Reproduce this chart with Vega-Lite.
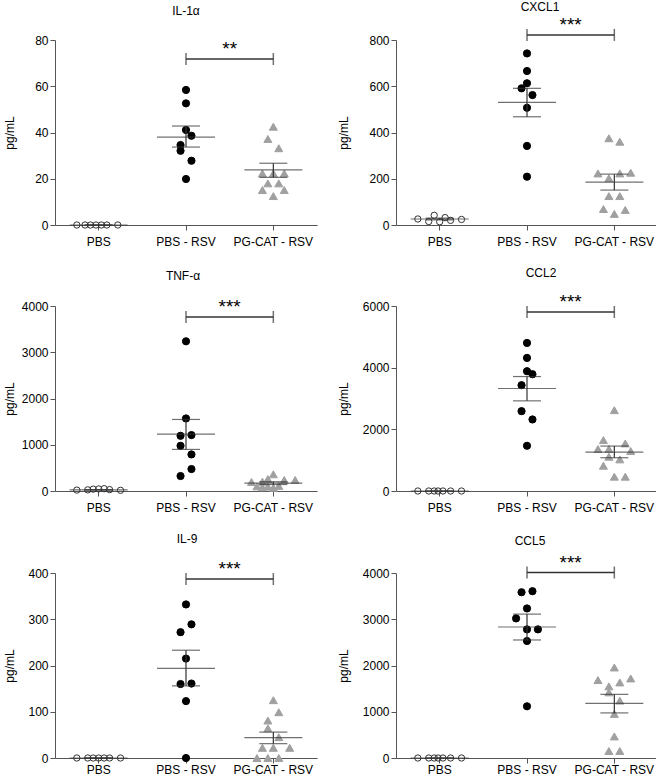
{
  "$schema": "https://vega.github.io/schema/vega-lite/v6.json",
  "padding": {"left": 3, "top": 0, "right": 0, "bottom": 0},
  "columns": 2,
  "spacing": {"row": 20, "column": 20},
  "datasets": {
    "pts": [
      {"c": "IL-1α", "g": "PBS", "v": 0, "s": -4},
      {"c": "IL-1α", "g": "PBS", "v": 0, "s": -2.5},
      {"c": "IL-1α", "g": "PBS", "v": 0, "s": -1.5},
      {"c": "IL-1α", "g": "PBS", "v": 0, "s": -0.5},
      {"c": "IL-1α", "g": "PBS", "v": 0, "s": 0.5},
      {"c": "IL-1α", "g": "PBS", "v": 0, "s": 1.5},
      {"c": "IL-1α", "g": "PBS", "v": 0, "s": 3.5},
      {"c": "IL-1α", "g": "PBS - RSV", "v": 58.4, "s": 0},
      {"c": "IL-1α", "g": "PBS - RSV", "v": 52.6, "s": 0},
      {"c": "IL-1α", "g": "PBS - RSV", "v": 41.1, "s": 0},
      {"c": "IL-1α", "g": "PBS - RSV", "v": 38.6, "s": 1},
      {"c": "IL-1α", "g": "PBS - RSV", "v": 34.6, "s": -1},
      {"c": "IL-1α", "g": "PBS - RSV", "v": 32.1, "s": -1},
      {"c": "IL-1α", "g": "PBS - RSV", "v": 27.8, "s": 1},
      {"c": "IL-1α", "g": "PBS - RSV", "v": 19.9, "s": 0},
      {"c": "IL-1α", "g": "PG-CAT - RSV", "v": 42.5, "s": 0},
      {"c": "IL-1α", "g": "PG-CAT - RSV", "v": 37.2, "s": -1},
      {"c": "IL-1α", "g": "PG-CAT - RSV", "v": 33.2, "s": 1},
      {"c": "IL-1α", "g": "PG-CAT - RSV", "v": 22.3, "s": -2},
      {"c": "IL-1α", "g": "PG-CAT - RSV", "v": 22.3, "s": 0},
      {"c": "IL-1α", "g": "PG-CAT - RSV", "v": 22.3, "s": 2},
      {"c": "IL-1α", "g": "PG-CAT - RSV", "v": 18.0, "s": -1},
      {"c": "IL-1α", "g": "PG-CAT - RSV", "v": 18.0, "s": 1},
      {"c": "IL-1α", "g": "PG-CAT - RSV", "v": 15.1, "s": -2},
      {"c": "IL-1α", "g": "PG-CAT - RSV", "v": 15.1, "s": 2},
      {"c": "IL-1α", "g": "PG-CAT - RSV", "v": 12.5, "s": 0},

      {"c": "CXCL1", "g": "PBS", "v": 26, "s": -4},
      {"c": "CXCL1", "g": "PBS", "v": 15, "s": -2},
      {"c": "CXCL1", "g": "PBS", "v": 42, "s": -1},
      {"c": "CXCL1", "g": "PBS", "v": 14, "s": 0},
      {"c": "CXCL1", "g": "PBS", "v": 32, "s": 1},
      {"c": "CXCL1", "g": "PBS", "v": 20, "s": 2},
      {"c": "CXCL1", "g": "PBS", "v": 24, "s": 4},
      {"c": "CXCL1", "g": "PBS - RSV", "v": 742, "s": 0},
      {"c": "CXCL1", "g": "PBS - RSV", "v": 666, "s": 0},
      {"c": "CXCL1", "g": "PBS - RSV", "v": 613, "s": 0},
      {"c": "CXCL1", "g": "PBS - RSV", "v": 591, "s": -1},
      {"c": "CXCL1", "g": "PBS - RSV", "v": 562, "s": 1},
      {"c": "CXCL1", "g": "PBS - RSV", "v": 507, "s": 0},
      {"c": "CXCL1", "g": "PBS - RSV", "v": 342, "s": 0},
      {"c": "CXCL1", "g": "PBS - RSV", "v": 209, "s": 0},
      {"c": "CXCL1", "g": "PG-CAT - RSV", "v": 375, "s": -1},
      {"c": "CXCL1", "g": "PG-CAT - RSV", "v": 360, "s": 1},
      {"c": "CXCL1", "g": "PG-CAT - RSV", "v": 223, "s": -3},
      {"c": "CXCL1", "g": "PG-CAT - RSV", "v": 202, "s": -1},
      {"c": "CXCL1", "g": "PG-CAT - RSV", "v": 223, "s": 1},
      {"c": "CXCL1", "g": "PG-CAT - RSV", "v": 226, "s": 3},
      {"c": "CXCL1", "g": "PG-CAT - RSV", "v": 125, "s": -1},
      {"c": "CXCL1", "g": "PG-CAT - RSV", "v": 125, "s": 1},
      {"c": "CXCL1", "g": "PG-CAT - RSV", "v": 69, "s": -2},
      {"c": "CXCL1", "g": "PG-CAT - RSV", "v": 48, "s": 0},
      {"c": "CXCL1", "g": "PG-CAT - RSV", "v": 65, "s": 2},

      {"c": "TNF-α", "g": "PBS", "v": 20, "s": -4},
      {"c": "TNF-α", "g": "PBS", "v": 25, "s": -2},
      {"c": "TNF-α", "g": "PBS", "v": 40, "s": -1},
      {"c": "TNF-α", "g": "PBS", "v": 45, "s": 0},
      {"c": "TNF-α", "g": "PBS", "v": 50, "s": 1},
      {"c": "TNF-α", "g": "PBS", "v": 30, "s": 2},
      {"c": "TNF-α", "g": "PBS", "v": 15, "s": 4},
      {"c": "TNF-α", "g": "PBS - RSV", "v": 3237, "s": 0},
      {"c": "TNF-α", "g": "PBS - RSV", "v": 1568, "s": 0},
      {"c": "TNF-α", "g": "PBS - RSV", "v": 1194, "s": -1},
      {"c": "TNF-α", "g": "PBS - RSV", "v": 1209, "s": 1},
      {"c": "TNF-α", "g": "PBS - RSV", "v": 978, "s": -1},
      {"c": "TNF-α", "g": "PBS - RSV", "v": 791, "s": 1},
      {"c": "TNF-α", "g": "PBS - RSV", "v": 475, "s": 1},
      {"c": "TNF-α", "g": "PBS - RSV", "v": 324, "s": -1},
      {"c": "TNF-α", "g": "PG-CAT - RSV", "v": 361, "s": 0},
      {"c": "TNF-α", "g": "PG-CAT - RSV", "v": 259, "s": -1},
      {"c": "TNF-α", "g": "PG-CAT - RSV", "v": 238, "s": 2},
      {"c": "TNF-α", "g": "PG-CAT - RSV", "v": 238, "s": 4},
      {"c": "TNF-α", "g": "PG-CAT - RSV", "v": 202, "s": -2},
      {"c": "TNF-α", "g": "PG-CAT - RSV", "v": 195, "s": -4},
      {"c": "TNF-α", "g": "PG-CAT - RSV", "v": 100, "s": -3},
      {"c": "TNF-α", "g": "PG-CAT - RSV", "v": 80, "s": -2},
      {"c": "TNF-α", "g": "PG-CAT - RSV", "v": 95, "s": -1},
      {"c": "TNF-α", "g": "PG-CAT - RSV", "v": 70, "s": 0},
      {"c": "TNF-α", "g": "PG-CAT - RSV", "v": 110, "s": 1},

      {"c": "CCL2", "g": "PBS", "v": 0, "s": -4},
      {"c": "CCL2", "g": "PBS", "v": 0, "s": -2},
      {"c": "CCL2", "g": "PBS", "v": 0, "s": -1},
      {"c": "CCL2", "g": "PBS", "v": 0, "s": -0.3},
      {"c": "CCL2", "g": "PBS", "v": 0, "s": 0.6},
      {"c": "CCL2", "g": "PBS", "v": 0, "s": 2},
      {"c": "CCL2", "g": "PBS", "v": 0, "s": 4},
      {"c": "CCL2", "g": "PBS - RSV", "v": 4802, "s": 0},
      {"c": "CCL2", "g": "PBS - RSV", "v": 4317, "s": 0},
      {"c": "CCL2", "g": "PBS - RSV", "v": 3885, "s": 0},
      {"c": "CCL2", "g": "PBS - RSV", "v": 3788, "s": 1},
      {"c": "CCL2", "g": "PBS - RSV", "v": 3432, "s": -1},
      {"c": "CCL2", "g": "PBS - RSV", "v": 2590, "s": -1},
      {"c": "CCL2", "g": "PBS - RSV", "v": 2320, "s": 1},
      {"c": "CCL2", "g": "PBS - RSV", "v": 1468, "s": 0},
      {"c": "CCL2", "g": "PG-CAT - RSV", "v": 2622, "s": 0},
      {"c": "CCL2", "g": "PG-CAT - RSV", "v": 1651, "s": -2},
      {"c": "CCL2", "g": "PG-CAT - RSV", "v": 1360, "s": -3},
      {"c": "CCL2", "g": "PG-CAT - RSV", "v": 1360, "s": -1},
      {"c": "CCL2", "g": "PG-CAT - RSV", "v": 1543, "s": 2},
      {"c": "CCL2", "g": "PG-CAT - RSV", "v": 1295, "s": 3},
      {"c": "CCL2", "g": "PG-CAT - RSV", "v": 1111, "s": -1},
      {"c": "CCL2", "g": "PG-CAT - RSV", "v": 1025, "s": 1},
      {"c": "CCL2", "g": "PG-CAT - RSV", "v": 820, "s": -2},
      {"c": "CCL2", "g": "PG-CAT - RSV", "v": 464, "s": 0},
      {"c": "CCL2", "g": "PG-CAT - RSV", "v": 464, "s": 2},

      {"c": "IL-9", "g": "PBS", "v": 0, "s": -4},
      {"c": "IL-9", "g": "PBS", "v": 0, "s": -2},
      {"c": "IL-9", "g": "PBS", "v": 0, "s": -1},
      {"c": "IL-9", "g": "PBS", "v": 0, "s": 0},
      {"c": "IL-9", "g": "PBS", "v": 0, "s": 1},
      {"c": "IL-9", "g": "PBS", "v": 0, "s": 2},
      {"c": "IL-9", "g": "PBS", "v": 0, "s": 4},
      {"c": "IL-9", "g": "PBS - RSV", "v": 332, "s": 0},
      {"c": "IL-9", "g": "PBS - RSV", "v": 289, "s": 1},
      {"c": "IL-9", "g": "PBS - RSV", "v": 272, "s": -1},
      {"c": "IL-9", "g": "PBS - RSV", "v": 215, "s": 0},
      {"c": "IL-9", "g": "PBS - RSV", "v": 160, "s": -1},
      {"c": "IL-9", "g": "PBS - RSV", "v": 161, "s": 1},
      {"c": "IL-9", "g": "PBS - RSV", "v": 123, "s": 0},
      {"c": "IL-9", "g": "PBS - RSV", "v": 0, "s": 0},
      {"c": "IL-9", "g": "PG-CAT - RSV", "v": 125, "s": 0},
      {"c": "IL-9", "g": "PG-CAT - RSV", "v": 99, "s": 1},
      {"c": "IL-9", "g": "PG-CAT - RSV", "v": 81, "s": -1},
      {"c": "IL-9", "g": "PG-CAT - RSV", "v": 64, "s": -1},
      {"c": "IL-9", "g": "PG-CAT - RSV", "v": 45, "s": 1},
      {"c": "IL-9", "g": "PG-CAT - RSV", "v": 22, "s": -2},
      {"c": "IL-9", "g": "PG-CAT - RSV", "v": 22, "s": 0},
      {"c": "IL-9", "g": "PG-CAT - RSV", "v": 22, "s": 3},
      {"c": "IL-9", "g": "PG-CAT - RSV", "v": 0, "s": -3},
      {"c": "IL-9", "g": "PG-CAT - RSV", "v": 0, "s": -1},
      {"c": "IL-9", "g": "PG-CAT - RSV", "v": 0, "s": 1},

      {"c": "CCL5", "g": "PBS", "v": 0, "s": -4},
      {"c": "CCL5", "g": "PBS", "v": 0, "s": -2},
      {"c": "CCL5", "g": "PBS", "v": 0, "s": -1},
      {"c": "CCL5", "g": "PBS", "v": 0, "s": -0.3},
      {"c": "CCL5", "g": "PBS", "v": 0, "s": 0.6},
      {"c": "CCL5", "g": "PBS", "v": 0, "s": 2},
      {"c": "CCL5", "g": "PBS", "v": 0, "s": 4},
      {"c": "CCL5", "g": "PBS - RSV", "v": 3584, "s": -1},
      {"c": "CCL5", "g": "PBS - RSV", "v": 3606, "s": 1},
      {"c": "CCL5", "g": "PBS - RSV", "v": 3233, "s": 0},
      {"c": "CCL5", "g": "PBS - RSV", "v": 3018, "s": -2},
      {"c": "CCL5", "g": "PBS - RSV", "v": 2781, "s": 0},
      {"c": "CCL5", "g": "PBS - RSV", "v": 2781, "s": 2},
      {"c": "CCL5", "g": "PBS - RSV", "v": 2530, "s": 0},
      {"c": "CCL5", "g": "PBS - RSV", "v": 1118, "s": 0},
      {"c": "CCL5", "g": "PG-CAT - RSV", "v": 1957, "s": 0},
      {"c": "CCL5", "g": "PG-CAT - RSV", "v": 1685, "s": -3},
      {"c": "CCL5", "g": "PG-CAT - RSV", "v": 1548, "s": -1},
      {"c": "CCL5", "g": "PG-CAT - RSV", "v": 1634, "s": 1},
      {"c": "CCL5", "g": "PG-CAT - RSV", "v": 1720, "s": 3},
      {"c": "CCL5", "g": "PG-CAT - RSV", "v": 1419, "s": -1},
      {"c": "CCL5", "g": "PG-CAT - RSV", "v": 1240, "s": 1},
      {"c": "CCL5", "g": "PG-CAT - RSV", "v": 953, "s": 0},
      {"c": "CCL5", "g": "PG-CAT - RSV", "v": 466, "s": 0},
      {"c": "CCL5", "g": "PG-CAT - RSV", "v": 151, "s": -1},
      {"c": "CCL5", "g": "PG-CAT - RSV", "v": 151, "s": 1}
    ],
    "stats": [
      {"c": "IL-1α", "g": "PBS", "mean": 0, "lo": 0, "hi": 0},
      {"c": "IL-1α", "g": "PBS - RSV", "mean": 38.0, "lo": 33.7, "hi": 42.8},
      {"c": "IL-1α", "g": "PG-CAT - RSV", "mean": 23.8, "lo": 20.6, "hi": 26.7},
      {"c": "CXCL1", "g": "PBS", "mean": 26, "lo": 22, "hi": 30},
      {"c": "CXCL1", "g": "PBS - RSV", "mean": 530, "lo": 468, "hi": 591},
      {"c": "CXCL1", "g": "PG-CAT - RSV", "mean": 185, "lo": 151, "hi": 220},
      {"c": "TNF-α", "g": "PBS", "mean": 25, "lo": 20, "hi": 30},
      {"c": "TNF-α", "g": "PBS - RSV", "mean": 1230, "lo": 899, "hi": 1547},
      {"c": "TNF-α", "g": "PG-CAT - RSV", "mean": 170, "lo": 140, "hi": 200},
      {"c": "CCL2", "g": "PBS", "mean": 0, "lo": 0, "hi": 0},
      {"c": "CCL2", "g": "PBS - RSV", "mean": 3324, "lo": 2924, "hi": 3712},
      {"c": "CCL2", "g": "PG-CAT - RSV", "mean": 1263, "lo": 1079, "hi": 1457},
      {"c": "IL-9", "g": "PBS", "mean": 0, "lo": 0, "hi": 0},
      {"c": "IL-9", "g": "PBS - RSV", "mean": 194, "lo": 156, "hi": 233},
      {"c": "IL-9", "g": "PG-CAT - RSV", "mean": 44, "lo": 31, "hi": 56},
      {"c": "CCL5", "g": "PBS", "mean": 0, "lo": 0, "hi": 0},
      {"c": "CCL5", "g": "PBS - RSV", "mean": 2832, "lo": 2552, "hi": 3111},
      {"c": "CCL5", "g": "PG-CAT - RSV", "mean": 1183, "lo": 975, "hi": 1376}
    ],
    "sig": [
      {"c": "IL-1α", "from": "PBS - RSV", "to": "PG-CAT - RSV", "y": 71.8, "t": "**"},
      {"c": "CXCL1", "from": "PBS - RSV", "to": "PG-CAT - RSV", "y": 822, "t": "***"},
      {"c": "TNF-α", "from": "PBS - RSV", "to": "PG-CAT - RSV", "y": 3762, "t": "***"},
      {"c": "CCL2", "from": "PBS - RSV", "to": "PG-CAT - RSV", "y": 5805, "t": "***"},
      {"c": "IL-9", "from": "PBS - RSV", "to": "PG-CAT - RSV", "y": 387, "t": "***"},
      {"c": "CCL5", "from": "PBS - RSV", "to": "PG-CAT - RSV", "y": 4010, "t": "***"}
    ]
  },
  "concat": [
    {
      "width": 262, "height": 185,
      "title": {"text": "IL-1α", "dx": 0, "offset": 16},
      "layer": [
        {"data": {"name": "pts"}, "transform": [{"filter": "datum.c === 'IL-1α'"}],
         "mark": {"type": "point", "filled": true, "strokeWidth": 1, "opacity": 1},
         "encoding": {
           "x": {"field": "g", "type": "nominal", "scale": {"domain": ["PBS", "PBS - RSV", "PG-CAT - RSV"], "paddingInner": 0, "paddingOuter": 0}, "axis": {"title": null}},
           "xOffset": {"field": "s", "type": "quantitative", "scale": {"domain": [-8, 8]}},
           "y": {"field": "v", "type": "quantitative", "scale": {"domain": [0, 80]}, "axis": {"title": "pg/mL", "values": [0, 20, 40, 60, 80], "titleX": -39}},
           "shape": {"field": "g", "type": "nominal", "scale": {"domain": ["PBS", "PBS - RSV", "PG-CAT - RSV"], "range": ["circle", "circle", "triangle-up"]}, "legend": null},
           "fill": {"field": "g", "type": "nominal", "scale": {"domain": ["PBS", "PBS - RSV", "PG-CAT - RSV"], "range": ["transparent", "#000000", "#a0a0a0"]}, "legend": null},
           "stroke": {"field": "g", "type": "nominal", "scale": {"domain": ["PBS", "PBS - RSV", "PG-CAT - RSV"], "range": ["#333333", "#000000", "#a0a0a0"]}, "legend": null},
           "size": {"field": "g", "type": "nominal", "scale": {"domain": ["PBS", "PBS - RSV", "PG-CAT - RSV"], "range": [40, 64, 64]}, "legend": null}
         }},
        {"data": {"name": "stats"}, "transform": [{"filter": "datum.c === 'IL-1α'"}],
         "mark": {"type": "rule", "color": "#333333", "strokeWidth": 1.2},
         "encoding": {"x": {"field": "g", "type": "nominal"}, "y": {"field": "lo", "type": "quantitative"}, "y2": {"field": "hi"}}},
        {"data": {"name": "stats"}, "transform": [{"filter": "datum.c === 'IL-1α'"}],
         "mark": {"type": "tick", "color": "#333333", "size": 58, "thickness": 1.2},
         "encoding": {"x": {"field": "g", "type": "nominal"}, "y": {"field": "mean", "type": "quantitative"}}},
        {"data": {"name": "stats"}, "transform": [{"filter": "datum.c === 'IL-1α'"}, {"fold": ["lo", "hi"], "as": ["k", "cv"]}],
         "mark": {"type": "tick", "color": "#333333", "size": 28, "thickness": 1.2},
         "encoding": {"x": {"field": "g", "type": "nominal"}, "y": {"field": "cv", "type": "quantitative"}}},
        {"data": {"name": "sig"}, "transform": [{"filter": "datum.c === 'IL-1α'"}],
         "mark": {"type": "rule", "color": "#333333", "strokeWidth": 1.5},
         "encoding": {"x": {"field": "from", "type": "nominal"}, "x2": {"field": "to"}, "y": {"field": "y", "type": "quantitative"}}},
        {"data": {"name": "sig"}, "transform": [{"filter": "datum.c === 'IL-1α'"}, {"fold": ["from", "to"], "as": ["k", "gx"]}],
         "mark": {"type": "tick", "orient": "vertical", "color": "#333333", "size": 12, "thickness": 1.5},
         "encoding": {"x": {"field": "gx", "type": "nominal"}, "y": {"field": "y", "type": "quantitative"}}},
        {"data": {"name": "sig"}, "transform": [{"filter": "datum.c === 'IL-1α'"}],
         "mark": {"type": "text", "fontSize": 19, "baseline": "alphabetic", "dy": -4, "font": "Liberation Sans", "color": "#000000"},
         "encoding": {"x": {"field": "from", "type": "nominal"}, "xOffset": {"datum": 8, "type": "quantitative"}, "y": {"field": "y", "type": "quantitative"}, "text": {"field": "t"}}}
      ]
    },
    {
      "width": 262, "height": 185,
      "title": {"text": "CXCL1", "dx": 13, "offset": 2},
      "layer": [
        {"data": {"name": "pts"}, "transform": [{"filter": "datum.c === 'CXCL1'"}],
         "mark": {"type": "point", "filled": true, "strokeWidth": 1, "opacity": 1},
         "encoding": {
           "x": {"field": "g", "type": "nominal", "scale": {"domain": ["PBS", "PBS - RSV", "PG-CAT - RSV"], "paddingInner": 0, "paddingOuter": 0}, "axis": {"title": null}},
           "xOffset": {"field": "s", "type": "quantitative", "scale": {"domain": [-8, 8]}},
           "y": {"field": "v", "type": "quantitative", "scale": {"domain": [0, 800]}, "axis": {"title": "pg/mL", "values": [0, 200, 400, 600, 800], "titleX": -46}},
           "shape": {"field": "g", "type": "nominal", "scale": {"domain": ["PBS", "PBS - RSV", "PG-CAT - RSV"], "range": ["circle", "circle", "triangle-up"]}, "legend": null},
           "fill": {"field": "g", "type": "nominal", "scale": {"domain": ["PBS", "PBS - RSV", "PG-CAT - RSV"], "range": ["transparent", "#000000", "#a0a0a0"]}, "legend": null},
           "stroke": {"field": "g", "type": "nominal", "scale": {"domain": ["PBS", "PBS - RSV", "PG-CAT - RSV"], "range": ["#333333", "#000000", "#a0a0a0"]}, "legend": null},
           "size": {"field": "g", "type": "nominal", "scale": {"domain": ["PBS", "PBS - RSV", "PG-CAT - RSV"], "range": [40, 64, 64]}, "legend": null}
         }},
        {"data": {"name": "stats"}, "transform": [{"filter": "datum.c === 'CXCL1'"}],
         "mark": {"type": "rule", "color": "#333333", "strokeWidth": 1.2},
         "encoding": {"x": {"field": "g", "type": "nominal"}, "y": {"field": "lo", "type": "quantitative"}, "y2": {"field": "hi"}}},
        {"data": {"name": "stats"}, "transform": [{"filter": "datum.c === 'CXCL1'"}],
         "mark": {"type": "tick", "color": "#333333", "size": 58, "thickness": 1.2},
         "encoding": {"x": {"field": "g", "type": "nominal"}, "y": {"field": "mean", "type": "quantitative"}}},
        {"data": {"name": "stats"}, "transform": [{"filter": "datum.c === 'CXCL1'"}, {"fold": ["lo", "hi"], "as": ["k", "cv"]}],
         "mark": {"type": "tick", "color": "#333333", "size": 28, "thickness": 1.2},
         "encoding": {"x": {"field": "g", "type": "nominal"}, "y": {"field": "cv", "type": "quantitative"}}},
        {"data": {"name": "sig"}, "transform": [{"filter": "datum.c === 'CXCL1'"}],
         "mark": {"type": "rule", "color": "#333333", "strokeWidth": 1.5},
         "encoding": {"x": {"field": "from", "type": "nominal"}, "x2": {"field": "to"}, "y": {"field": "y", "type": "quantitative"}}},
        {"data": {"name": "sig"}, "transform": [{"filter": "datum.c === 'CXCL1'"}, {"fold": ["from", "to"], "as": ["k", "gx"]}],
         "mark": {"type": "tick", "orient": "vertical", "color": "#333333", "size": 12, "thickness": 1.5},
         "encoding": {"x": {"field": "gx", "type": "nominal"}, "y": {"field": "y", "type": "quantitative"}}},
        {"data": {"name": "sig"}, "transform": [{"filter": "datum.c === 'CXCL1'"}],
         "mark": {"type": "text", "fontSize": 19, "baseline": "alphabetic", "dy": -4, "font": "Liberation Sans", "color": "#000000"},
         "encoding": {"x": {"field": "from", "type": "nominal"}, "xOffset": {"datum": 8, "type": "quantitative"}, "y": {"field": "y", "type": "quantitative"}, "text": {"field": "t"}}}
      ]
    },
    {
      "width": 262, "height": 185,
      "title": {"text": "TNF-α", "dx": -3, "offset": 15},
      "layer": [
        {"data": {"name": "pts"}, "transform": [{"filter": "datum.c === 'TNF-α'"}],
         "mark": {"type": "point", "filled": true, "strokeWidth": 1, "opacity": 1},
         "encoding": {
           "x": {"field": "g", "type": "nominal", "scale": {"domain": ["PBS", "PBS - RSV", "PG-CAT - RSV"], "paddingInner": 0, "paddingOuter": 0}, "axis": {"title": null}},
           "xOffset": {"field": "s", "type": "quantitative", "scale": {"domain": [-8, 8]}},
           "y": {"field": "v", "type": "quantitative", "scale": {"domain": [0, 4000]}, "axis": {"title": "pg/mL", "values": [0, 1000, 2000, 3000, 4000], "format": "d", "titleX": -39}},
           "shape": {"field": "g", "type": "nominal", "scale": {"domain": ["PBS", "PBS - RSV", "PG-CAT - RSV"], "range": ["circle", "circle", "triangle-up"]}, "legend": null},
           "fill": {"field": "g", "type": "nominal", "scale": {"domain": ["PBS", "PBS - RSV", "PG-CAT - RSV"], "range": ["transparent", "#000000", "#a0a0a0"]}, "legend": null},
           "stroke": {"field": "g", "type": "nominal", "scale": {"domain": ["PBS", "PBS - RSV", "PG-CAT - RSV"], "range": ["#333333", "#000000", "#a0a0a0"]}, "legend": null},
           "size": {"field": "g", "type": "nominal", "scale": {"domain": ["PBS", "PBS - RSV", "PG-CAT - RSV"], "range": [40, 64, 64]}, "legend": null}
         }},
        {"data": {"name": "stats"}, "transform": [{"filter": "datum.c === 'TNF-α'"}],
         "mark": {"type": "rule", "color": "#333333", "strokeWidth": 1.2},
         "encoding": {"x": {"field": "g", "type": "nominal"}, "y": {"field": "lo", "type": "quantitative"}, "y2": {"field": "hi"}}},
        {"data": {"name": "stats"}, "transform": [{"filter": "datum.c === 'TNF-α'"}],
         "mark": {"type": "tick", "color": "#333333", "size": 58, "thickness": 1.2},
         "encoding": {"x": {"field": "g", "type": "nominal"}, "y": {"field": "mean", "type": "quantitative"}}},
        {"data": {"name": "stats"}, "transform": [{"filter": "datum.c === 'TNF-α'"}, {"fold": ["lo", "hi"], "as": ["k", "cv"]}],
         "mark": {"type": "tick", "color": "#333333", "size": 28, "thickness": 1.2},
         "encoding": {"x": {"field": "g", "type": "nominal"}, "y": {"field": "cv", "type": "quantitative"}}},
        {"data": {"name": "sig"}, "transform": [{"filter": "datum.c === 'TNF-α'"}],
         "mark": {"type": "rule", "color": "#333333", "strokeWidth": 1.5},
         "encoding": {"x": {"field": "from", "type": "nominal"}, "x2": {"field": "to"}, "y": {"field": "y", "type": "quantitative"}}},
        {"data": {"name": "sig"}, "transform": [{"filter": "datum.c === 'TNF-α'"}, {"fold": ["from", "to"], "as": ["k", "gx"]}],
         "mark": {"type": "tick", "orient": "vertical", "color": "#333333", "size": 12, "thickness": 1.5},
         "encoding": {"x": {"field": "gx", "type": "nominal"}, "y": {"field": "y", "type": "quantitative"}}},
        {"data": {"name": "sig"}, "transform": [{"filter": "datum.c === 'TNF-α'"}],
         "mark": {"type": "text", "fontSize": 19, "baseline": "alphabetic", "dy": -4, "font": "Liberation Sans", "color": "#000000"},
         "encoding": {"x": {"field": "from", "type": "nominal"}, "xOffset": {"datum": 8, "type": "quantitative"}, "y": {"field": "y", "type": "quantitative"}, "text": {"field": "t"}}}
      ]
    },
    {
      "width": 262, "height": 185,
      "title": {"text": "CCL2", "dx": 14, "offset": 13},
      "layer": [
        {"data": {"name": "pts"}, "transform": [{"filter": "datum.c === 'CCL2'"}],
         "mark": {"type": "point", "filled": true, "strokeWidth": 1, "opacity": 1},
         "encoding": {
           "x": {"field": "g", "type": "nominal", "scale": {"domain": ["PBS", "PBS - RSV", "PG-CAT - RSV"], "paddingInner": 0, "paddingOuter": 0}, "axis": {"title": null}},
           "xOffset": {"field": "s", "type": "quantitative", "scale": {"domain": [-8, 8]}},
           "y": {"field": "v", "type": "quantitative", "scale": {"domain": [0, 6000]}, "axis": {"title": "pg/mL", "values": [0, 2000, 4000, 6000], "format": "d", "titleX": -46}},
           "shape": {"field": "g", "type": "nominal", "scale": {"domain": ["PBS", "PBS - RSV", "PG-CAT - RSV"], "range": ["circle", "circle", "triangle-up"]}, "legend": null},
           "fill": {"field": "g", "type": "nominal", "scale": {"domain": ["PBS", "PBS - RSV", "PG-CAT - RSV"], "range": ["transparent", "#000000", "#a0a0a0"]}, "legend": null},
           "stroke": {"field": "g", "type": "nominal", "scale": {"domain": ["PBS", "PBS - RSV", "PG-CAT - RSV"], "range": ["#333333", "#000000", "#a0a0a0"]}, "legend": null},
           "size": {"field": "g", "type": "nominal", "scale": {"domain": ["PBS", "PBS - RSV", "PG-CAT - RSV"], "range": [40, 64, 64]}, "legend": null}
         }},
        {"data": {"name": "stats"}, "transform": [{"filter": "datum.c === 'CCL2'"}],
         "mark": {"type": "rule", "color": "#333333", "strokeWidth": 1.2},
         "encoding": {"x": {"field": "g", "type": "nominal"}, "y": {"field": "lo", "type": "quantitative"}, "y2": {"field": "hi"}}},
        {"data": {"name": "stats"}, "transform": [{"filter": "datum.c === 'CCL2'"}],
         "mark": {"type": "tick", "color": "#333333", "size": 58, "thickness": 1.2},
         "encoding": {"x": {"field": "g", "type": "nominal"}, "y": {"field": "mean", "type": "quantitative"}}},
        {"data": {"name": "stats"}, "transform": [{"filter": "datum.c === 'CCL2'"}, {"fold": ["lo", "hi"], "as": ["k", "cv"]}],
         "mark": {"type": "tick", "color": "#333333", "size": 28, "thickness": 1.2},
         "encoding": {"x": {"field": "g", "type": "nominal"}, "y": {"field": "cv", "type": "quantitative"}}},
        {"data": {"name": "sig"}, "transform": [{"filter": "datum.c === 'CCL2'"}],
         "mark": {"type": "rule", "color": "#333333", "strokeWidth": 1.5},
         "encoding": {"x": {"field": "from", "type": "nominal"}, "x2": {"field": "to"}, "y": {"field": "y", "type": "quantitative"}}},
        {"data": {"name": "sig"}, "transform": [{"filter": "datum.c === 'CCL2'"}, {"fold": ["from", "to"], "as": ["k", "gx"]}],
         "mark": {"type": "tick", "orient": "vertical", "color": "#333333", "size": 12, "thickness": 1.5},
         "encoding": {"x": {"field": "gx", "type": "nominal"}, "y": {"field": "y", "type": "quantitative"}}},
        {"data": {"name": "sig"}, "transform": [{"filter": "datum.c === 'CCL2'"}],
         "mark": {"type": "text", "fontSize": 19, "baseline": "alphabetic", "dy": -4, "font": "Liberation Sans", "color": "#000000"},
         "encoding": {"x": {"field": "from", "type": "nominal"}, "xOffset": {"datum": 8, "type": "quantitative"}, "y": {"field": "y", "type": "quantitative"}, "text": {"field": "t"}}}
      ]
    },
    {
      "width": 262, "height": 185,
      "title": {"text": "IL-9", "dx": 1, "offset": 14},
      "layer": [
        {"data": {"name": "pts"}, "transform": [{"filter": "datum.c === 'IL-9'"}],
         "mark": {"type": "point", "filled": true, "strokeWidth": 1, "opacity": 1},
         "encoding": {
           "x": {"field": "g", "type": "nominal", "scale": {"domain": ["PBS", "PBS - RSV", "PG-CAT - RSV"], "paddingInner": 0, "paddingOuter": 0}, "axis": {"title": null, "labelPadding": 1}},
           "xOffset": {"field": "s", "type": "quantitative", "scale": {"domain": [-8, 8]}},
           "y": {"field": "v", "type": "quantitative", "scale": {"domain": [0, 400]}, "axis": {"title": "pg/mL", "values": [0, 100, 200, 300, 400], "titleX": -39}},
           "shape": {"field": "g", "type": "nominal", "scale": {"domain": ["PBS", "PBS - RSV", "PG-CAT - RSV"], "range": ["circle", "circle", "triangle-up"]}, "legend": null},
           "fill": {"field": "g", "type": "nominal", "scale": {"domain": ["PBS", "PBS - RSV", "PG-CAT - RSV"], "range": ["transparent", "#000000", "#a0a0a0"]}, "legend": null},
           "stroke": {"field": "g", "type": "nominal", "scale": {"domain": ["PBS", "PBS - RSV", "PG-CAT - RSV"], "range": ["#333333", "#000000", "#a0a0a0"]}, "legend": null},
           "size": {"field": "g", "type": "nominal", "scale": {"domain": ["PBS", "PBS - RSV", "PG-CAT - RSV"], "range": [40, 64, 64]}, "legend": null}
         }},
        {"data": {"name": "stats"}, "transform": [{"filter": "datum.c === 'IL-9'"}],
         "mark": {"type": "rule", "color": "#333333", "strokeWidth": 1.2},
         "encoding": {"x": {"field": "g", "type": "nominal"}, "y": {"field": "lo", "type": "quantitative"}, "y2": {"field": "hi"}}},
        {"data": {"name": "stats"}, "transform": [{"filter": "datum.c === 'IL-9'"}],
         "mark": {"type": "tick", "color": "#333333", "size": 58, "thickness": 1.2},
         "encoding": {"x": {"field": "g", "type": "nominal"}, "y": {"field": "mean", "type": "quantitative"}}},
        {"data": {"name": "stats"}, "transform": [{"filter": "datum.c === 'IL-9'"}, {"fold": ["lo", "hi"], "as": ["k", "cv"]}],
         "mark": {"type": "tick", "color": "#333333", "size": 28, "thickness": 1.2},
         "encoding": {"x": {"field": "g", "type": "nominal"}, "y": {"field": "cv", "type": "quantitative"}}},
        {"data": {"name": "sig"}, "transform": [{"filter": "datum.c === 'IL-9'"}],
         "mark": {"type": "rule", "color": "#333333", "strokeWidth": 1.5},
         "encoding": {"x": {"field": "from", "type": "nominal"}, "x2": {"field": "to"}, "y": {"field": "y", "type": "quantitative"}}},
        {"data": {"name": "sig"}, "transform": [{"filter": "datum.c === 'IL-9'"}, {"fold": ["from", "to"], "as": ["k", "gx"]}],
         "mark": {"type": "tick", "orient": "vertical", "color": "#333333", "size": 12, "thickness": 1.5},
         "encoding": {"x": {"field": "gx", "type": "nominal"}, "y": {"field": "y", "type": "quantitative"}}},
        {"data": {"name": "sig"}, "transform": [{"filter": "datum.c === 'IL-9'"}],
         "mark": {"type": "text", "fontSize": 19, "baseline": "alphabetic", "dy": -4, "font": "Liberation Sans", "color": "#000000"},
         "encoding": {"x": {"field": "from", "type": "nominal"}, "xOffset": {"datum": 8, "type": "quantitative"}, "y": {"field": "y", "type": "quantitative"}, "text": {"field": "t"}}}
      ]
    },
    {
      "width": 262, "height": 185,
      "title": {"text": "CCL5", "dx": 3, "offset": 6},
      "layer": [
        {"data": {"name": "pts"}, "transform": [{"filter": "datum.c === 'CCL5'"}],
         "mark": {"type": "point", "filled": true, "strokeWidth": 1, "opacity": 1},
         "encoding": {
           "x": {"field": "g", "type": "nominal", "scale": {"domain": ["PBS", "PBS - RSV", "PG-CAT - RSV"], "paddingInner": 0, "paddingOuter": 0}, "axis": {"title": null, "labelPadding": 1}},
           "xOffset": {"field": "s", "type": "quantitative", "scale": {"domain": [-8, 8]}},
           "y": {"field": "v", "type": "quantitative", "scale": {"domain": [0, 4000]}, "axis": {"title": "pg/mL", "values": [0, 1000, 2000, 3000, 4000], "format": "d", "titleX": -46}},
           "shape": {"field": "g", "type": "nominal", "scale": {"domain": ["PBS", "PBS - RSV", "PG-CAT - RSV"], "range": ["circle", "circle", "triangle-up"]}, "legend": null},
           "fill": {"field": "g", "type": "nominal", "scale": {"domain": ["PBS", "PBS - RSV", "PG-CAT - RSV"], "range": ["transparent", "#000000", "#a0a0a0"]}, "legend": null},
           "stroke": {"field": "g", "type": "nominal", "scale": {"domain": ["PBS", "PBS - RSV", "PG-CAT - RSV"], "range": ["#333333", "#000000", "#a0a0a0"]}, "legend": null},
           "size": {"field": "g", "type": "nominal", "scale": {"domain": ["PBS", "PBS - RSV", "PG-CAT - RSV"], "range": [40, 64, 64]}, "legend": null}
         }},
        {"data": {"name": "stats"}, "transform": [{"filter": "datum.c === 'CCL5'"}],
         "mark": {"type": "rule", "color": "#333333", "strokeWidth": 1.2},
         "encoding": {"x": {"field": "g", "type": "nominal"}, "y": {"field": "lo", "type": "quantitative"}, "y2": {"field": "hi"}}},
        {"data": {"name": "stats"}, "transform": [{"filter": "datum.c === 'CCL5'"}],
         "mark": {"type": "tick", "color": "#333333", "size": 58, "thickness": 1.2},
         "encoding": {"x": {"field": "g", "type": "nominal"}, "y": {"field": "mean", "type": "quantitative"}}},
        {"data": {"name": "stats"}, "transform": [{"filter": "datum.c === 'CCL5'"}, {"fold": ["lo", "hi"], "as": ["k", "cv"]}],
         "mark": {"type": "tick", "color": "#333333", "size": 28, "thickness": 1.2},
         "encoding": {"x": {"field": "g", "type": "nominal"}, "y": {"field": "cv", "type": "quantitative"}}},
        {"data": {"name": "sig"}, "transform": [{"filter": "datum.c === 'CCL5'"}],
         "mark": {"type": "rule", "color": "#333333", "strokeWidth": 1.5},
         "encoding": {"x": {"field": "from", "type": "nominal"}, "x2": {"field": "to"}, "y": {"field": "y", "type": "quantitative"}}},
        {"data": {"name": "sig"}, "transform": [{"filter": "datum.c === 'CCL5'"}, {"fold": ["from", "to"], "as": ["k", "gx"]}],
         "mark": {"type": "tick", "orient": "vertical", "color": "#333333", "size": 12, "thickness": 1.5},
         "encoding": {"x": {"field": "gx", "type": "nominal"}, "y": {"field": "y", "type": "quantitative"}}},
        {"data": {"name": "sig"}, "transform": [{"filter": "datum.c === 'CCL5'"}],
         "mark": {"type": "text", "fontSize": 19, "baseline": "alphabetic", "dy": -4, "font": "Liberation Sans", "color": "#000000"},
         "encoding": {"x": {"field": "from", "type": "nominal"}, "xOffset": {"datum": 8, "type": "quantitative"}, "y": {"field": "y", "type": "quantitative"}, "text": {"field": "t"}}}
      ]
    }
  ],
  "config": {
    "font": "Liberation Sans",
    "view": {"stroke": null},
    "axis": {"labelFont": "Liberation Sans", "labelFontSize": 12, "labelColor": "#000000", "titleFont": "Liberation Sans", "titleFontSize": 12, "titleFontWeight": "normal", "titleColor": "#000000", "domainColor": "#555555", "tickColor": "#555555", "tickSize": 5, "grid": false, "labelPadding": 2},
    "axisX": {"labelAngle": 0, "labelPadding": 6},
    "title": {"font": "Liberation Sans", "fontSize": 12, "fontWeight": "normal", "color": "#000000"}
  }
}
